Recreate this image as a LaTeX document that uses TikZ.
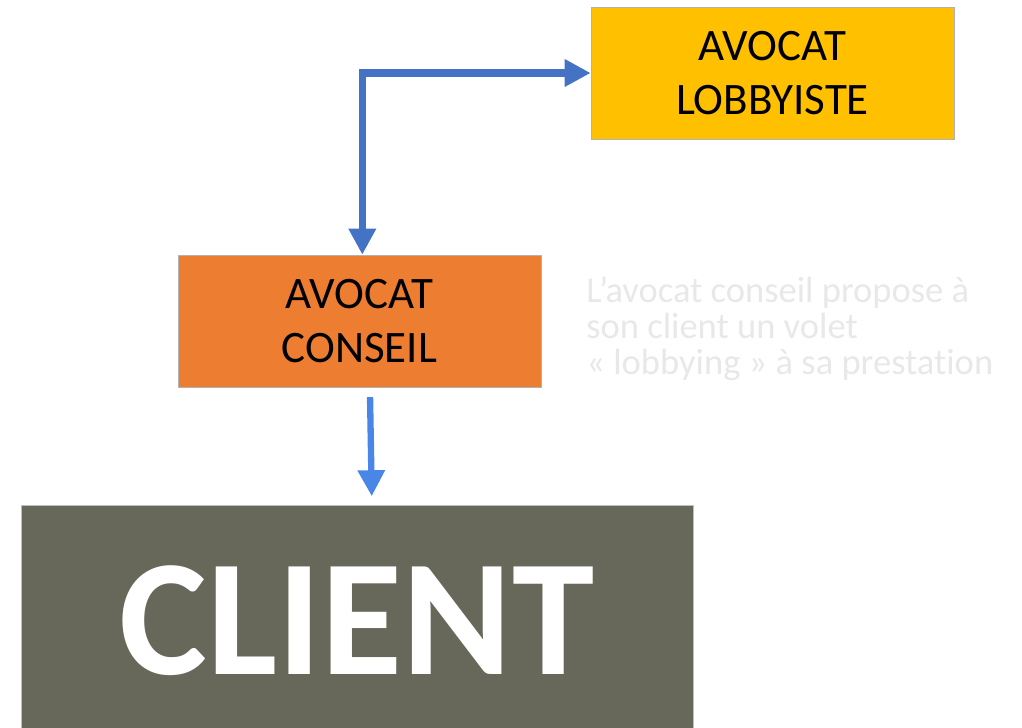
\documentclass[tikz,border=0pt]{standalone}
\usepackage{fontspec}
\setmainfont{Carlito}
\usetikzlibrary{arrows.meta}

\definecolor{lobbyfill}{HTML}{FFC000}
\definecolor{conseilfill}{HTML}{ED7D31}
\definecolor{clientfill}{HTML}{67675A}
\definecolor{arrowblue}{HTML}{4472C4}
\definecolor{arrowlight}{HTML}{4A86E8}
\definecolor{ghosttext}{HTML}{E8E8E8}

\tikzset{
  box/.style={draw=gray!60, line width=0.4pt, minimum width=9.075cm, minimum height=3.3cm,
    align=center, inner sep=0pt, font=\fontsize{32}{38.5}\selectfont},
  flow/.style={line width=5pt, -{Triangle[length=0.65cm, width=0.65cm]}},
}

\begin{document}
\begin{tikzpicture}[x=0.025cm, y=-0.025cm]
    \useasboundingbox (0,0) rectangle (1022,728);
    \begin{scope}
        \clip (0,0) rectangle (1022,728);
		\node[box, fill=lobbyfill] (lobby) at (772.5, 73) {AVOCAT\\LOBBYISTE};
		\node[box, fill=conseilfill] (conseil) at (359.5, 321) {AVOCAT\\CONSEIL};
		\node[draw=gray!50, fill=clientfill, minimum width=16.8cm, minimum height=5.8cm,
		      text=white, font=\bfseries\fontsize{118}{118}\selectfont] (client) at (357, 621) {CLIENT};
		\node[anchor=north west, align=left, text=ghosttext, inner sep=0pt,
		      font=\addfontfeatures{Ligatures=NoCommon}\fontsize{26}{25.8}\selectfont] (note) at (586, 276)
		      {L’avocat conseil propose à\\son client un volet\\« lobbying » à sa prestation};
    \end{scope}

    \draw[flow, arrowblue, {Triangle[length=0.65cm, width=0.65cm]}-{Triangle[length=0.65cm, width=0.65cm]}]
        ([xshift=2pt]conseil.north) |- (lobby.west);
    \draw[flow, arrowlight, line width=4.5pt]
        ([xshift=7.5pt, yshift=-7pt]conseil.south) -- ([xshift=10.5pt, yshift=6pt]client.north);
\end{tikzpicture}
\end{document}
